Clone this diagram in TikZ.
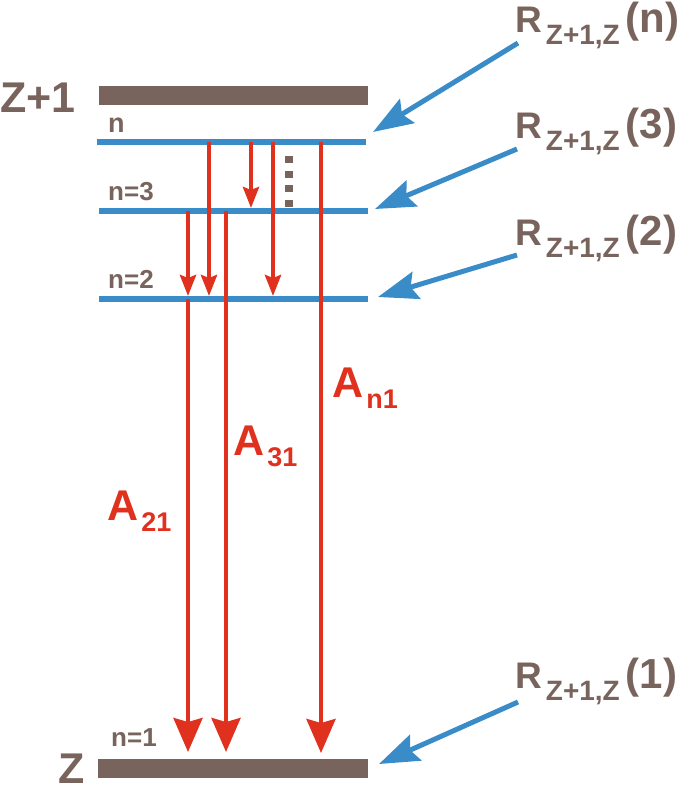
\documentclass[tikz,border=0pt]{standalone}
\usepackage{fontspec}
\setmainfont{Liberation Sans}
\usetikzlibrary{arrows.meta}
\definecolor{lvbrown}{HTML}{78645C}
\definecolor{lvblue}{HTML}{3A8CC8}
\definecolor{lvred}{HTML}{E0301E}
\newcommand\fsz[1]{\fontsize{#1}{#1}\selectfont}
\newcommand\rlabel[1]{\bfseries\fsz{37}R\kern4pt\raisebox{-12pt}{\fsz{28}\bfseries Z+1,Z}\kern6pt{\fsz{42}\bfseries(#1)}}
\newcommand\alabel[2]{\fsz{43}\bfseries A\kern3pt\raisebox{-11pt}{\fsz{27}\bfseries #1}}
\begin{document}
\begin{tikzpicture}[x=1pt,y=-1pt,
  bar/.style={fill=lvbrown},
  level/.style={draw=lvblue, line width=6.5pt},
  bigdecay/.style={draw=lvred, line width=4pt, -{Stealth[length=34pt,width=29pt,inset=4pt]}},
  smalldecay/.style={draw=lvred, line width=4pt, -{Stealth[length=21pt,width=16pt,inset=3pt]}},
  recomb/.style={draw=lvblue, line width=5pt, -{Stealth[length=40pt,width=28pt,inset=6pt]}},
  txt/.style={inner sep=0pt, anchor=base west, text=lvbrown},
  redtxt/.style={inner sep=0pt, anchor=base west, text=lvred}]
\useasboundingbox (0,0) rectangle (685,787);

% ion / atom ground bars
\fill[bar] (99,86) rectangle (368,105);
\fill[bar] (98,759) rectangle (368,778);
\node[txt] (zp1) at (0,112) {\fsz{43}\bfseries Z+1};
\node[txt] (z) at (58,783) {\fsz{43}\bfseries Z};

% excited levels
\draw[level] (97,142) -- (366,142);
\draw[level] (99,211) -- (368,211);
\draw[level] (99,299) -- (368,299);
\node[txt] (ln) at (108,132) {\fsz{27}\bfseries n};
\node[txt] (l3) at (108,200) {\fsz{26}\bfseries n=3};
\node[txt] (l2) at (108,288) {\fsz{26}\bfseries n=2};
\node[txt] (l1) at (111,746) {\fsz{26}\bfseries n=1};

% dotted continuation
\foreach \yy in {156,170.5,185,199.5}
  \fill[lvbrown] (285,\yy) rectangle (292.5,\yy+7);

% coordinates for decays
\coordinate (s1) at (251,142); \coordinate (e1) at (251,208);
\coordinate (s2) at (273,142); \coordinate (e2) at (273,296);
\coordinate (s3) at (209,142); \coordinate (e3) at (209,296);
\coordinate (s4) at (188,211); \coordinate (e4) at (188,296);
\coordinate (s5) at (188,299); \coordinate (e5) at (188,752);
\coordinate (s6) at (226,211); \coordinate (e6) at (226,752);
\coordinate (s7) at (321,142); \coordinate (e7) at (321,753);

\draw[smalldecay] (s1) -- (e1);
\draw[smalldecay] (s2) -- (e2);
\draw[smalldecay] (s3) -- (e3);
\draw[smalldecay] (s4) -- (e4);
\draw[bigdecay] (s5) -- (e5);
\draw[bigdecay] (s6) -- (e6);
\draw[bigdecay] (s7) -- (e7);

\node[redtxt] (a21) at (107,520) {\alabel{21}{}};
\node[redtxt] (a31) at (233,455) {\alabel{31}{}};
\node[redtxt] (an1) at (332,397) {\alabel{n1}{}};

% recombination labels and arrows
\node[txt] (rn) at (515,32) {\rlabel{n}};
\node[txt] (r3) at (515,138) {\rlabel{3}};
\node[txt] (r2) at (515,245) {\rlabel{2}};
\node[txt] (r1) at (515,688) {\rlabel{1}};

\coordinate (bn) at (518,43);  \coordinate (tn) at (373,132);
\coordinate (b3) at (517,149); \coordinate (t3) at (375,209);
\coordinate (b2) at (517,255); \coordinate (t2) at (378,297);
\coordinate (b1) at (518,702); \coordinate (t1) at (379,764);
\draw[recomb] (bn) -- (tn);
\draw[recomb] (b3) -- (t3);
\draw[recomb] (b2) -- (t2);
\draw[recomb] (b1) -- (t1);
\end{tikzpicture}
\end{document}
